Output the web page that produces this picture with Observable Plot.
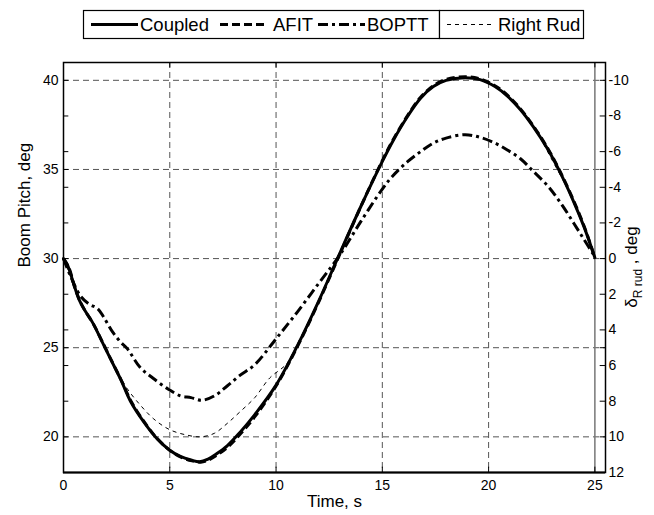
<!DOCTYPE html>
<html><head><meta charset="utf-8">
<script src="https://cdn.jsdelivr.net/npm/d3@7"></script>
<script src="https://cdn.jsdelivr.net/npm/@observablehq/plot@0.6"></script>
<style>
body{margin:0;background:#fff;font-family:"Liberation Sans",Arial,Helvetica,sans-serif}
#wrap{width:654px;height:515px;position:relative;overflow:hidden}
</style>
</head><body><div id="wrap"><div id="legend"></div><div id="chart"></div></div>
<script>
// ---- data ----
const seriesNames = ["Coupled", "AFIT", "BOPTT", "Right Rud"];

const tCoupled = [0, 0.2, 0.5, 0.75, 1.0, 1.35, 1.75, 2.2, 2.7, 3.15, 3.8, 4.4, 5.0, 5.5, 6.0, 6.4, 6.8, 7.2, 7.7, 8.3, 9.0, 10, 11, 12, 13, 14, 15, 15.5, 16.2, 16.8, 17.4, 18.0, 18.9, 19.6, 20.3, 20.9, 21.5, 22.1, 22.8, 23.4, 24.0, 24.5, 25.0];
const coupled = [30.0, 29.6, 28.5, 27.65, 27.1, 26.45, 25.5, 24.4, 23.2, 22.0, 20.8, 19.9, 19.25, 18.9, 18.7, 18.6, 18.75, 19.05, 19.5, 20.25, 21.25, 22.9, 25.1, 27.6, 30.3, 32.95, 35.45, 36.6, 38.0, 39.0, 39.65, 40.0, 40.15, 40.04, 39.65, 39.1, 38.35, 37.4, 36.1, 34.75, 33.2, 31.75, 30.05];

const tAfit = [0, 0.25, 0.55, 0.8, 1.05, 1.4, 1.8, 2.25, 2.75, 3.2, 3.85, 4.45, 5.05, 5.55, 6.05, 6.45, 6.85, 7.25, 7.75, 8.35, 9.05, 10, 11, 12, 13, 14, 15, 15.5, 16.2, 16.8, 17.4, 18.0, 18.9, 19.6, 20.3, 20.9, 21.5, 22.1, 22.8, 23.4, 24.0, 24.5, 25.0];
const afit = [30.0, 29.5, 28.3, 27.55, 27.0, 26.35, 25.4, 24.3, 23.1, 21.95, 20.75, 19.85, 19.2, 18.85, 18.65, 18.58, 18.72, 19.0, 19.45, 20.2, 21.2, 22.85, 25.05, 27.55, 30.25, 32.95, 35.5, 36.65, 38.05, 39.05, 39.7, 40.05, 40.2, 40.08, 39.7, 39.15, 38.4, 37.45, 36.15, 34.8, 33.25, 31.8, 30.05];

const tBoptt = [0, 0.3, 0.8, 1.2, 1.6, 1.9, 2.3, 2.7, 3.0, 3.6, 4.2, 4.9, 5.5, 6.0, 6.5, 7.1, 7.7, 8.3, 9.0, 10, 11, 12, 13, 14, 15, 15.5, 16.2, 16.8, 17.4, 18.0, 18.9, 19.6, 20.3, 20.9, 21.5, 22.1, 22.8, 23.4, 24.0, 24.5, 25.0];
const boptt = [30.0, 29.1, 27.9, 27.45, 27.2, 26.7, 25.9, 25.3, 24.95, 23.9, 23.3, 22.7, 22.3, 22.2, 22.05, 22.3, 22.85, 23.45, 24.05, 25.5, 27.0, 28.6, 30.2, 32.1, 33.9, 34.65, 35.45, 36.0, 36.48, 36.76, 36.95, 36.8, 36.48, 36.08, 35.6, 34.9, 34.05, 33.1, 32.0, 31.05, 30.1];

// right-rudder deflection, deg (right axis: positive downward)
const tRud = [0, 0.5, 1.0, 1.5, 2.0, 2.5, 3.0, 3.6, 4.25, 5.0, 5.8, 6.45, 7.1, 7.7, 8.3, 9.0, 9.7, 10.5, 11, 12, 13, 14, 15, 16, 17, 18, 19, 20, 21, 22, 23, 24, 25];
const rightRud = [0, 1.5, 2.9, 3.8, 5.1, 6.3, 7.3, 8.2, 9.0, 9.6, 9.9, 10.0, 9.8, 9.25, 8.6, 7.8, 6.7, 5.9, 4.8, 2.4, -0.3, -2.95, -5.45, -7.7, -9.3, -10.0, -10.15, -9.85, -9.0, -7.6, -5.5, -3.2, 0];

const xTicks = [0, 5, 10, 15, 20, 25];
const yTicks = [20, 25, 30, 35, 40];
const rudTicks = [-10, -8, -6, -4, -2, 0, 2, 4, 6, 8, 10, 12];

// ---- build tables ----
const rud2pitch = r => 30 - r;
const pitch2rud = p => 30 - p;
const rows = (ts, vs) => ts.map((t, i) => ({t, v: vs[i]}));
const dCoupled = rows(tCoupled, coupled);
const dAfit = rows(tAfit, afit);
const dBoptt = rows(tBoptt, boptt);
const dRud = tRud.map((t, i) => ({t, v: rud2pitch(rightRud[i])}));
const rudTickPos = rudTicks.map(rud2pitch);
const allTicks = Array.from(new Set([...yTicks, ...rudTickPos]));

const FONT = '"Liberation Sans", Arial, Helvetica, sans-serif';
const styles = {
  "Coupled": {strokeWidth: 3, dash: null},
  "AFIT": {strokeWidth: 3, dash: "8,4"},
  "BOPTT": {strokeWidth: 3, dash: "10,4,3,4"},
  "Right Rud": {strokeWidth: 1, dash: "4,4"}
};
const lineOpts = name => ({
  x: "t", y: "v", stroke: "black",
  strokeWidth: styles[name].strokeWidth,
  strokeDasharray: styles[name].dash,
  strokeLinecap: styles[name].dash ? "butt" : "round",
  curve: "catmull-rom"
});

const chart = Plot.plot({
  width: 654, height: 470,
  marginLeft: 63, marginRight: 49, marginTop: 17, marginBottom: 43,
  x: {domain: [0, 25.5]},
  y: {domain: [18, 41]},
  style: {fontFamily: FONT, fontSize: "14px", color: "black", background: "white", overflow: "visible"},
  marks: [
    Plot.ruleY(yTicks, {stroke: "#555", strokeWidth: 1, strokeDasharray: "6,4"}),
    Plot.ruleX(xTicks.filter(d => d > 0 && d < 25), {stroke: "#555", strokeWidth: 1, strokeDasharray: "6,4"}),
    Plot.ruleX([25], {stroke: "#777", strokeWidth: 1.5}),
    Plot.ruleY(allTicks, {x1: 0, x2: 0.25, stroke: "black", strokeWidth: 1}),
    Plot.ruleY(allTicks, {x1: 25.25, x2: 25.5, stroke: "black", strokeWidth: 1}),
    Plot.ruleX(xTicks, {y1: 18, y2: 18.3, stroke: "black", strokeWidth: 1}),
    Plot.ruleX(xTicks, {y1: 40.7, y2: 41, stroke: "black", strokeWidth: 1}),
    Plot.line(dRud, lineOpts("Right Rud")),
    Plot.line(dCoupled, lineOpts("Coupled")),
    Plot.line(dAfit, lineOpts("AFIT")),
    Plot.line(dBoptt, lineOpts("BOPTT")),
    Plot.frame({stroke: "black", strokeWidth: 1.5}),
    Plot.ruleY([18], {stroke: "black", strokeWidth: 2}),
    Plot.axisY(yTicks, {anchor: "left", tickSize: 0, tickPadding: 5, label: null, fontSize: 14}),
    Plot.axisY(rudTickPos, {anchor: "right", tickSize: 0, tickPadding: 3, label: null, fontSize: 14,
      tickFormat: d => String(Math.round(pitch2rud(d)))}),
    Plot.axisX(xTicks, {anchor: "bottom", tickSize: 0, tickPadding: 8, label: null, fontSize: 14}),
    Plot.text(["Time, s"], {frameAnchor: "bottom", dy: 34, fontSize: 17}),
    Plot.text(["Boom Pitch, deg"], {frameAnchor: "left", dx: -39, rotate: -90, fontSize: 17})
  ]
});
document.getElementById("chart").appendChild(chart);

// right axis title with subscript
const svg = d3.select(chart);
const rt = svg.append("text")
  .attr("transform", "translate(637,222) rotate(-90)")
  .attr("text-anchor", "middle")
  .attr("font-family", FONT).attr("font-size", 17).attr("fill", "black");
rt.append("tspan").text("δ");
rt.append("tspan").attr("font-size", 12).attr("dy", 5).text("R rud");
rt.append("tspan").attr("dy", -5).text(" , deg");

// ---- legend (above the plot) ----
const leg = d3.select("#legend").append("svg").attr("width", 654).attr("height", 45)
  .style("display", "block").attr("font-family", FONT).attr("font-size", 18.5);
const boxes = [{x0: 83, x1: 439}, {x0: 439, x1: 583}];
boxes.forEach(b => leg.append("rect").attr("x", b.x0 + 0.5).attr("y", 10.5).attr("width", b.x1 - b.x0).attr("height", 28)
  .attr("fill", "white").attr("stroke", "black").attr("stroke-width", 1.2));
const entries = [
  {name: seriesNames[0], s0: 91, s1: 138, tx: 140},
  {name: seriesNames[1], s0: 220, s1: 268, tx: 273},
  {name: seriesNames[2], s0: 318, s1: 365, tx: 367},
  {name: seriesNames[3], s0: 447, s1: 493, tx: 498}
];
entries.forEach(e => {
  const st = styles[e.name];
  leg.append("line").attr("x1", e.s0).attr("x2", e.s1).attr("y1", 24.5).attr("y2", 24.5)
    .attr("stroke", "black").attr("stroke-width", st.strokeWidth)
    .attr("stroke-dasharray", st.dash);
  leg.append("text").attr("x", e.tx).attr("y", 31).text(e.name);
});
</script>
</body></html>
